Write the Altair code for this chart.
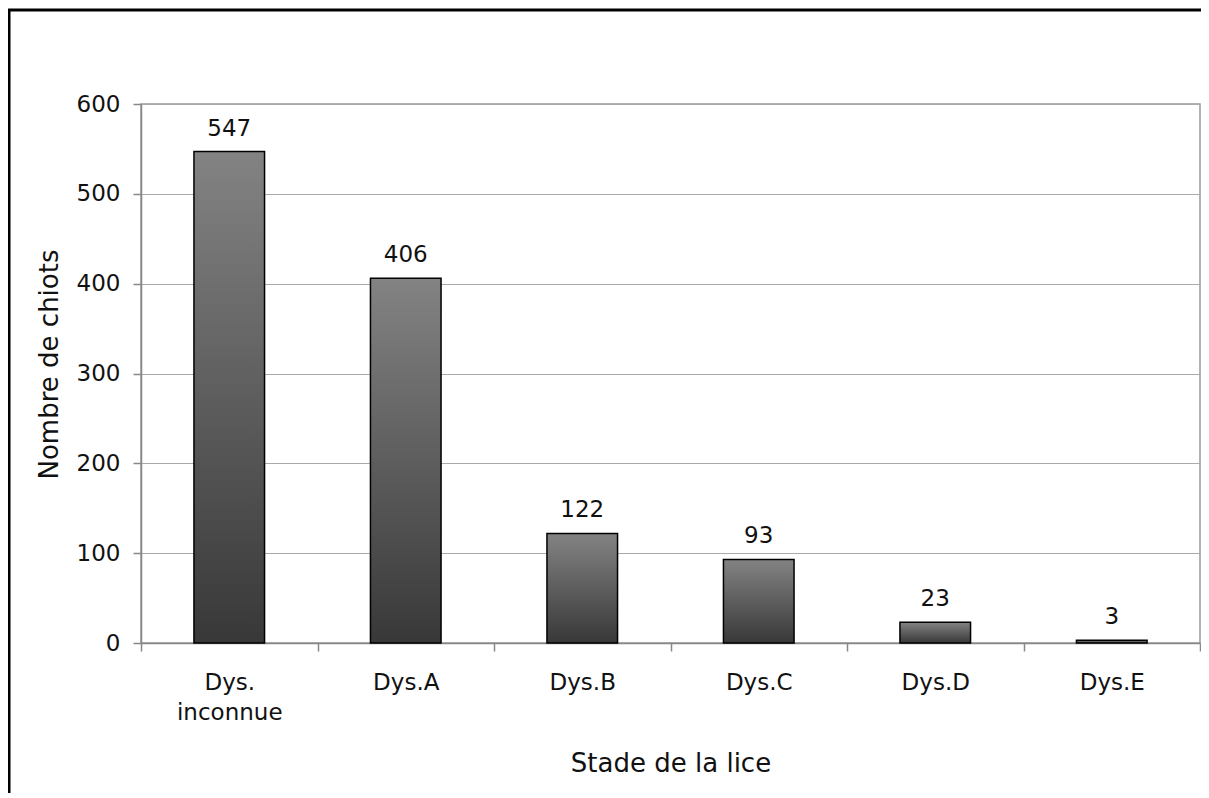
import altair as alt
import pandas as pd

categories = ["Dys. inconnue", "Dys.A", "Dys.B", "Dys.C", "Dys.D", "Dys.E"]
values = [547, 406, 122, 93, 23, 3]
y_ticks = [0, 100, 200, 300, 400, 500, 600]

df = pd.DataFrame({"stade": categories, "n": values})

W, H = 1059, 539
FONT = "DejaVu Sans"

base = alt.Chart(df)

bars = base.mark_bar(
    color=alt.Gradient(
        gradient="linear", x1=0, y1=0, x2=0, y2=1,
        stops=[alt.GradientStop(color="#838383", offset=0),
               alt.GradientStop(color="#383838", offset=1)],
    ),
    stroke="black",
    strokeWidth=1.5,
    width=alt.RelativeBandSize(0.4),
).encode(
    x=alt.X("stade:N", sort=categories, title="Stade de la lice",
            scale=alt.Scale(paddingInner=0, paddingOuter=0),
            axis=alt.Axis(labelAngle=0, tickBand="extent", grid=False,
                          labelExpr="datum.value ? split(datum.value, ' ') : ''",
                          labelLineHeight=30, labelPadding=20,
                          titlePadding=26)),
    y=alt.Y("n:Q", title="Nombre de chiots",
            scale=alt.Scale(domain=[0, 600], nice=False),
            axis=alt.Axis(values=y_ticks, grid=True, labelPadding=13,
                          titlePadding=14, titleY=260)),
)

labels = base.mark_text(
    baseline="alphabetic", dy=-16, font=FONT, fontSize=23, color="#111"
).encode(
    x=alt.X("stade:N", sort=categories),
    y="n:Q",
    text="n:Q",
)

frame = alt.Chart(pd.DataFrame({"f": [0]})).mark_rect(
    fill="transparent", stroke="black", strokeWidth=3
).encode(
    x=alt.value(-132), x2=alt.value(W + 60),
    y=alt.value(-94), y2=alt.value(H + 300),
)

chart = alt.layer(frame, bars, labels).properties(
    width=W, height=H,
    background="white",
    autosize=alt.AutoSizeParams(type="none"),
    padding={"left": 133, "top": 96, "right": 1, "bottom": 150},
).configure_view(
    stroke="#999", strokeWidth=1.5
).configure_axis(
    labelFont=FONT, titleFont=FONT,
    labelFontSize=23, titleFontSize=26,
    labelColor="#111", titleColor="#111",
    titleFontWeight="normal",
    domainColor="#888", domainWidth=1.5,
    tickColor="#888", tickSize=8, tickWidth=1.5,
    gridColor="#aaa", gridWidth=1.2,
)

chart.save("out.html", embed_options={"renderer": "svg", "actions": False})
